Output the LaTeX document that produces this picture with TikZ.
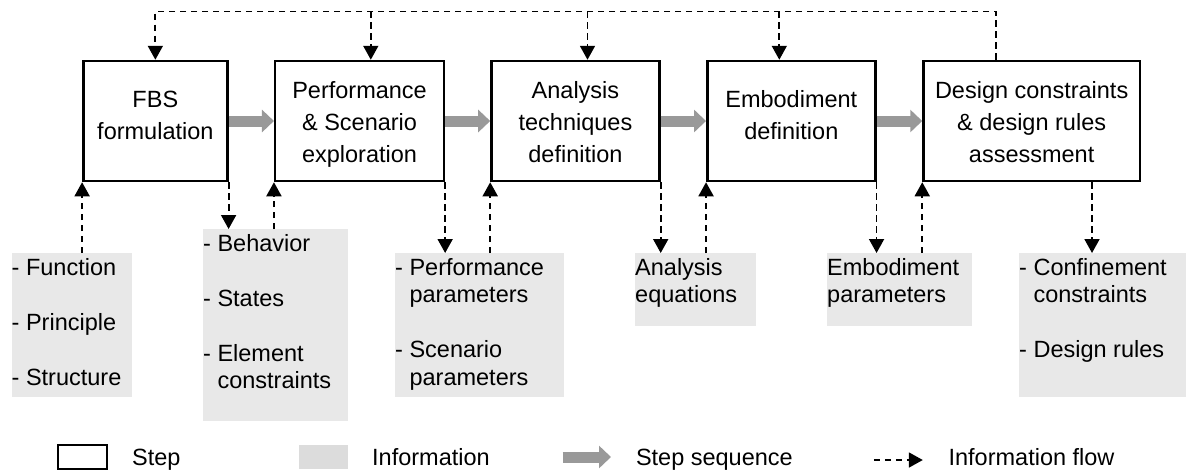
\documentclass[tikz,border=0pt]{standalone}
\usepackage{fontspec}
\setmainfont{Liberation Sans}
\usetikzlibrary{arrows.meta,calc}
\definecolor{infofill}{HTML}{E8E8E8}
\definecolor{legfill}{HTML}{DCDCDC}
\definecolor{seqgray}{HTML}{999999}
\newcommand{\firststrut}{\rule{0pt}{18pt}}
\newcommand{\hstrut}[1]{\rule{0pt}{#1}}
\newcommand{\dstrut}[1]{\rule[-#1]{0pt}{#1}}
\begin{document}
\begin{tikzpicture}[x=1pt,y=-1pt,
  txt/.style={inner sep=0pt, anchor=base west, font=\fontsize{23.5}{27.5}\selectfont},
  stepbox/.style={draw=black, line width=2.5pt, minimum height=120pt, align=center, inner sep=0pt, font=\fontsize{23.5}{32}\selectfont},
  infobox/.style={fill=infofill, draw=none, anchor=north west, inner sep=0pt},
  infotext/.style={anchor=north west, inner sep=0pt, align=left, font=\fontsize{23.5}{27.5}\selectfont},
  seq/.style={draw=seqgray, line width=11pt, -{Triangle[length=12pt,width=22pt]}},
  flow/.style={draw=black, line width=1.8pt, dash pattern=on 6.5pt off 4.5pt, -{Triangle[length=14pt,width=15pt]}},
]
\useasboundingbox (0,0) rectangle (1186,472);

% steps
\node[stepbox, minimum width=144pt] (b1) at (155.35,121) {\hstrut{18pt}FBS\\formulation\dstrut{12.6pt}};
\node[stepbox, minimum width=168.7pt] (b2) at (359.55,121) {\hstrut{24.6pt}Performance\\\& Scenario\\exploration\dstrut{6pt}};
\node[stepbox, minimum width=168pt] (b3) at (575.45,121) {\hstrut{24.6pt}Analysis\\techniques\\definition\dstrut{6pt}};
\node[stepbox, minimum width=168pt] (b4) at (791.3,121) {\hstrut{18pt}Embodiment\\definition\dstrut{12.6pt}};
\node[stepbox, minimum width=216.3pt] (b5) at (1031.65,121) {\hstrut{24.6pt}Design constraints\\\& design rules\\assessment\dstrut{6pt}};

% information boxes
\node[infobox, minimum width=120.5pt, minimum height=144pt] (i1) at (11.5,253) {};
\node[infobox, minimum width=144.5pt, minimum height=192pt] (i2) at (203,229) {};
\node[infobox, minimum width=168.7pt, minimum height=144pt] (i3) at (395,253) {};
\node[infobox, minimum width=120.5pt, minimum height=73pt] (i4) at (635,253) {};
\node[infobox, minimum width=144.8pt, minimum height=73pt] (i5) at (827,253) {};
\node[infobox, minimum width=168pt, minimum height=144pt] (i6) at (1019,253) {};

\node[infotext] (t1) at ($(i1.north west)+(0,4)$) {\firststrut- Function\\[27.5pt]- Principle\\[27.5pt]- Structure};
\node[infotext] (t2) at ($(i2.north west)+(0,4)$) {\firststrut- Behavior\\[27.5pt]- States\\[27.5pt]- Element\\\phantom{- }constraints};
\node[infotext] (t3) at ($(i3.north west)+(0,4)$) {\firststrut- Performance\\\phantom{- }parameters\\[27.5pt]- Scenario\\\phantom{- }parameters};
\node[infotext] (t4) at ($(i4.north west)+(0,4)$) {\firststrut Analysis\\equations};
\node[infotext] (t5) at ($(i5.north west)+(0,4)$) {\firststrut Embodiment\\parameters};
\node[infotext] (t6) at ($(i6.north west)+(0,4)$) {\firststrut- Confinement\\\phantom{- }constraints\\[27.5pt]- Design rules};

% step sequence
\draw[seq] (b1.east) -- (b2.west);
\draw[seq] (b2.east) -- (b3.west);
\draw[seq] (b3.east) -- (b4.west);
\draw[seq] (b4.east) -- (b5.west);

% top information loop
\coordinate (topR) at ($(b5.north)+(-35.75,-48.3)$);
\coordinate (topL) at (b1.north |- topR);
\coordinate (top2) at ($(b2.north)+(11.25,-48.3)$);
\coordinate (top3) at ($(b3.north)+(12.05,-48.3)$);
\coordinate (top4) at ($(b4.north)+(-12,-48.3)$);
\draw[flow] (topR |- b5.north) -- (topR) -- (topL) -- (b1.north);
\draw[flow] (top2) -- (top2 |- b2.north);
\draw[flow] (top3) -- (top3 |- b3.north);
\draw[flow] (top4) -- (top4 |- b4.north);

% bottom information flows
\draw[flow] (b1.south west |- i1.north) -- (b1.south west);
\draw[flow] (b1.south east) -- (b1.south east |- i2.north);
\draw[flow] (b2.south west |- i2.north) -- (b2.south west);
\draw[flow] (b2.south east) -- (b2.south east |- i3.north);
\draw[flow] (b3.south west |- i3.north) -- (b3.south west);
\draw[flow] (b3.south east) -- (b3.south east |- i4.north);
\draw[flow] (b4.south west |- i4.north) -- (b4.south west);
\draw[flow] (b4.south east) -- (b4.south east |- i5.north);
\draw[flow] (b5.south west |- i5.north) -- (b5.south west);
\coordinate (d5) at ($(b5.south)+(60.35,0)$);
\draw[flow] (d5) -- (d5 |- i6.north);

% legend
\node[draw=black, line width=2.2pt, minimum width=49pt, minimum height=24pt, inner sep=0pt] (lstep) at (82.5,457) {};
\node[txt] (lsteptxt) at (132,465.5) {Step};
\node[fill=legfill, minimum width=49pt, minimum height=24pt, inner sep=0pt] (linfo) at (323,457) {};
\node[txt] (linfotxt) at (372,465.5) {Information};
\coordinate (sa) at (562.6,457);
\coordinate (sb) at (611,457);
\draw[seq] (sa) -- (sb);
\node[txt] (lseqtxt) at (635.8,465.5) {Step sequence};
\coordinate (fa) at (873.8,460);
\coordinate (fb) at (922.8,460);
\draw[flow] (fa) -- (fb);
\node[txt] (lflowtxt) at (948.4,465.5) {Information flow};
\end{tikzpicture}
\end{document}
